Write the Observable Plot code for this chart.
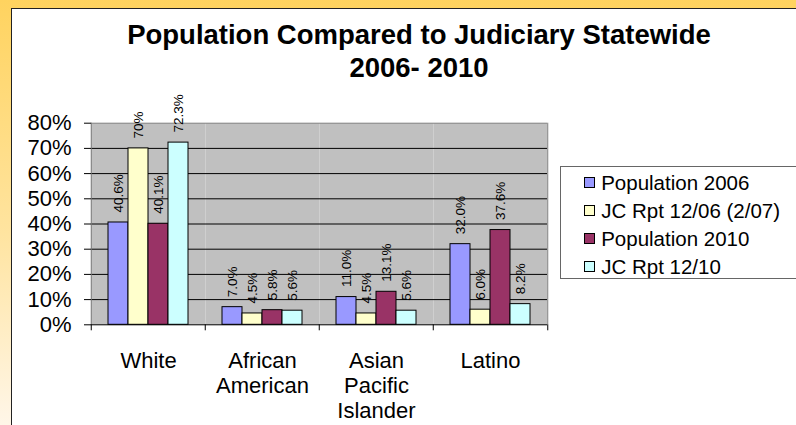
<!DOCTYPE html>
<html>
<head>
<meta charset="utf-8">
<script src="https://cdn.jsdelivr.net/npm/d3@7"></script>
<script src="https://cdn.jsdelivr.net/npm/@observablehq/plot@0.6"></script>
<style>
  html, body { margin: 0; padding: 0; }
  body {
    width: 796px; height: 425px; position: relative; overflow: hidden;
    font-family: "Liberation Sans", Arial, sans-serif;
    background: linear-gradient(180deg, #FFD35F 0%, #FFE4A0 55%, #FFF6E8 100%);
  }
  #panel {
    position: absolute; left: 11px; top: 8px; right: 0; bottom: 0;
    background: #fff; border-left: 1.5px solid #222; border-top: 1.5px solid #222;
  }
  #title {
    position: absolute; left: 419px; top: 17.5px; transform: translateX(-50%);
    white-space: nowrap; text-align: center; font-weight: bold;
    font-size: 27.5px; line-height: 33px; color: #000;
  }
  #chart { position: absolute; left: 0; top: 85px; }
  #legend {
    position: absolute; left: 560px; top: 166px; width: 260px; height: 113px;
    box-sizing: border-box; border: 1.5px solid #666; background: #fff; padding-top: 1.7px;
  }
  .item { display: flex; align-items: center; height: 28px; padding-left: 22.5px;
          font-size: 20.5px; color: #000; white-space: nowrap; }
  .swatch { width: 11px; height: 11px; box-sizing: border-box; border: 1px solid #000; margin-right: 6.7px; }
</style>
</head>
<body>
<div id="panel"></div>
<div id="title">Population Compared to Judiciary Statewide<br>2006- 2010</div>
<div id="chart"></div>
<div id="legend"></div>
<script>
// Groups along the bottom and their printed (wrapped) names
const categories = ["White", "African American", "Asian Pacific Islander", "Latino"];
const categoryLines = ["White", "African\nAmerican", "Asian\nPacific\nIslander", "Latino"];

// Series, in bar order within each group
const series = ["Population 2006", "JC Rpt 12/06 (2/07)", "Population 2010", "JC Rpt 12/10"];
const colors = ["#9999FF", "#FFFFCC", "#993366", "#CCFFFF"];

// Percent shares per series, in category order (kept as printed)
const pop2006 = ["40.6", "7.0", "11.0", "32.0"];
const jcRpt2006 = ["70", "4.5", "4.5", "6.0"];
const pop2010 = ["40.1", "5.8", "13.1", "37.6"];
const jcRpt2010 = ["72.3", "5.6", "5.6", "8.2"];

const yTicks = [0, 10, 20, 30, 40, 50, 60, 70, 80];

const seriesValues = [pop2006, jcRpt2006, pop2010, jcRpt2010];
const rows = [];
categories.forEach((c, ci) => {
  series.forEach((s, si) => {
    const printed = seriesValues[si][ci];
    rows.push({category: c, series: s, value: +printed, label: printed + "%"});
  });
});

const W = 796, H = 340;
const ML = 90, MR = 248, MT = 37.7, MB = 100.7;
const band = (W - ML - MR) / categories.length;
const font = '"Liberation Sans", Arial, sans-serif';

const chart = Plot.plot({
  width: W, height: H,
  marginLeft: ML, marginRight: MR, marginTop: MT, marginBottom: MB,
  style: {background: "transparent", overflow: "visible", fontFamily: font, color: "#000"},
  fx: {domain: categories, padding: 0, axis: null},
  x: {domain: series, paddingInner: 0, paddingOuter: 0.78, axis: null},
  y: {domain: [0, 80], axis: null},
  color: {domain: series, range: colors},
  marks: [
    Plot.frame({fill: "#C0C0C0", stroke: null}),
    Plot.gridY({ticks: yTicks.filter(t => t > 0 && t < 80), stroke: "#000", strokeOpacity: 1}),
    Plot.ruleY([80], {stroke: "#808080"}),
    Plot.gridFx({ticks: [categories[0]], dx: -band / 2, stroke: "#707070", strokeOpacity: 1}),
    Plot.gridFx({ticks: [categories[categories.length - 1]], dx: band / 2, stroke: "#808080", strokeOpacity: 1}),
    Plot.barY(rows, {fx: "category", x: "series", y: "value", fill: "series", stroke: "#000", strokeWidth: 1}),
    Plot.ruleY([0], {stroke: "#000"}),
    Plot.text(rows, {
      fx: "category", x: "series", y: "value", text: "label",
      rotate: -90, textAnchor: "start", dy: -10, fontSize: 13.5, fill: "#000"
    }),
    Plot.axisY({
      ticks: yTicks, tickFormat: d => d + "%", tickSize: 7, tickPadding: 13,
      fontSize: 22, label: null, stroke: "#000"
    }),
    Plot.axisFx({
      anchor: "bottom", tickSize: 0, tickPadding: 25, fontSize: 22, lineHeight: 1.15,
      label: null, tickFormat: d => categoryLines[categories.indexOf(d)]
    }),
    Plot.axisFx({anchor: "bottom", text: null, label: null, tickSize: 6, dx: -band / 2, stroke: "#000"}),
    Plot.axisFx({anchor: "bottom", ticks: [categories[categories.length - 1]], text: null, label: null,
                 tickSize: 6, dx: band / 2, stroke: "#000"})
  ]
});
document.getElementById("chart").appendChild(chart);

// Legend entries built from the series and their colours
const legend = document.getElementById("legend");
series.forEach((s, i) => {
  const item = document.createElement("div");
  item.className = "item";
  const sw = document.createElement("span");
  sw.className = "swatch";
  sw.style.background = colors[i];
  item.appendChild(sw);
  item.appendChild(document.createTextNode(s));
  legend.appendChild(item);
});
</script>
</body>
</html>
